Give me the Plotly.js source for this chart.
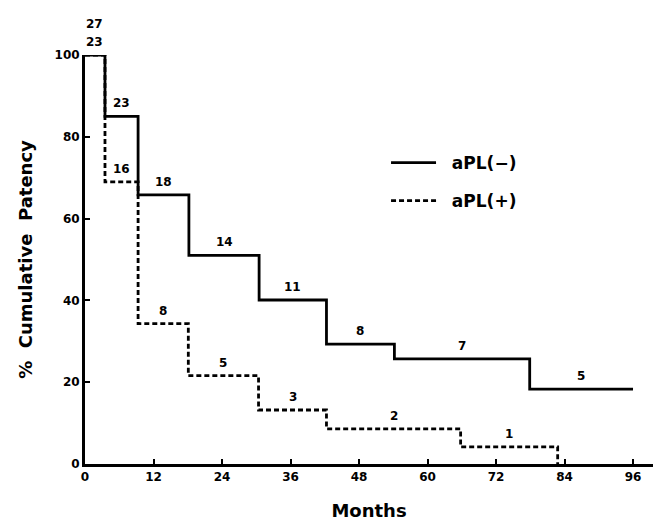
<!DOCTYPE html>
<html>
<head>
<meta charset="utf-8">
<script src="https://cdn.plot.ly/plotly-3.0.1.min.js"></script>
<style>html,body{margin:0;padding:0;background:#fff}</style>
</head>
<body>
<div id="chart" style="width:657px;height:521px"></div>
<script>
// aPL(-) : step times (months) and cumulative patency (%)
const negMonths = [0, 3.5, 9.3, 18.2, 30.5, 42.3, 54.2, 77.9, 96];
const negPatency = [100, 85, 65.8, 51, 40.1, 29.3, 25.7, 18.3, 18.3];
const negAtRisk = ["27", "23", "18", "14", "11", "8", "7", "5"];

// aPL(+)
const posMonths = [0, 3.5, 9.3, 18.1, 30.4, 42.3, 65.8, 82.8];
const posPatency = [100, 69, 34.3, 21.6, 13.2, 8.6, 4.2, 0];
const posAtRisk = ["23", "16", "8", "5", "3", "2", "1"];

const xTicks = [0, 12, 24, 36, 48, 60, 72, 84, 96];
const yTicks = [0, 20, 40, 60, 80, 100];

const FONT = "DejaVu Sans, Arial, sans-serif";
const SP = "\u00a0\u00a0";

const traces = [
  {
    x: negMonths, y: negPatency, mode: "lines", line: {shape: "hv", color: "#000", width: 2.8},
    name: SP + "<b>aPL(\u2212)</b>", legendgroup: "neg"
  },
  {
    x: posMonths, y: posPatency, mode: "lines", line: {shape: "hv", color: "#000", width: 2.8, dash: "5px,3px"},
    name: SP + "<b>aPL(+)</b>", legendgroup: "pos"
  }
];

// at-risk labels centred over each interval
const annotations = [];
function addLabels(months, pat, labels, extraFirst) {
  for (let i = 0; i < labels.length; i++) {
    const x0 = months[i], x1 = months[i + 1];
    annotations.push({
      x: (x0 + x1) / 2, y: pat[i], xref: "x", yref: "y",
      text: "<b>" + labels[i] + "</b>", showarrow: false,
      yanchor: "bottom", yshift: 4 + (i === 0 ? extraFirst : 0),
      font: {family: FONT, size: 12, color: "#000"}
    });
  }
}
addLabels(negMonths, negPatency, negAtRisk, 18);
addLabels(posMonths, posPatency, posAtRisk, 0);

const layout = {
  width: 657, height: 521,
  margin: {l: 85, r: 4, t: 55, b: 57},
  paper_bgcolor: "#fff", plot_bgcolor: "#fff",
  font: {family: FONT, color: "#000"},
  showlegend: true,
  legend: {
    x: 0.53, y: 0.78, xanchor: "left", yanchor: "top",
    font: {family: FONT, size: 17, color: "#000"},
    bgcolor: "rgba(0,0,0,0)", itemwidth: 45, tracegroupgap: 13, traceorder: "grouped"
  },
  xaxis: {
    range: [0, 99.5], tickvals: xTicks, ticktext: xTicks.map(v => "<b>" + v + "</b>"),
    ticks: "inside", ticklen: 5, tickwidth: 2, tickcolor: "#000",
    showline: true, linecolor: "#000", linewidth: 3, showgrid: false, zeroline: false,
    tickfont: {family: FONT, size: 12, color: "#000"},
    title: {text: "<b>Months</b>", font: {family: FONT, size: 18, color: "#000"}, standoff: 21}
  },
  yaxis: {
    range: [0, 100], tickvals: yTicks, ticktext: yTicks.map(v => "<b>" + v + "</b>"),
    ticks: "inside", ticklen: 5, tickwidth: 2, tickcolor: "#000",
    showline: true, linecolor: "#000", linewidth: 3, showgrid: false, zeroline: false,
    tickfont: {family: FONT, size: 12, color: "#000"},
    title: {text: "<b>%\u00a0\u00a0Cumulative\u00a0\u00a0Patency</b>", font: {family: FONT, size: 18, color: "#000"}, standoff: 18}
  },
  annotations: annotations
};

Plotly.newPlot("chart", traces, layout, {displayModeBar: false, staticPlot: true});
</script>
</body>
</html>
